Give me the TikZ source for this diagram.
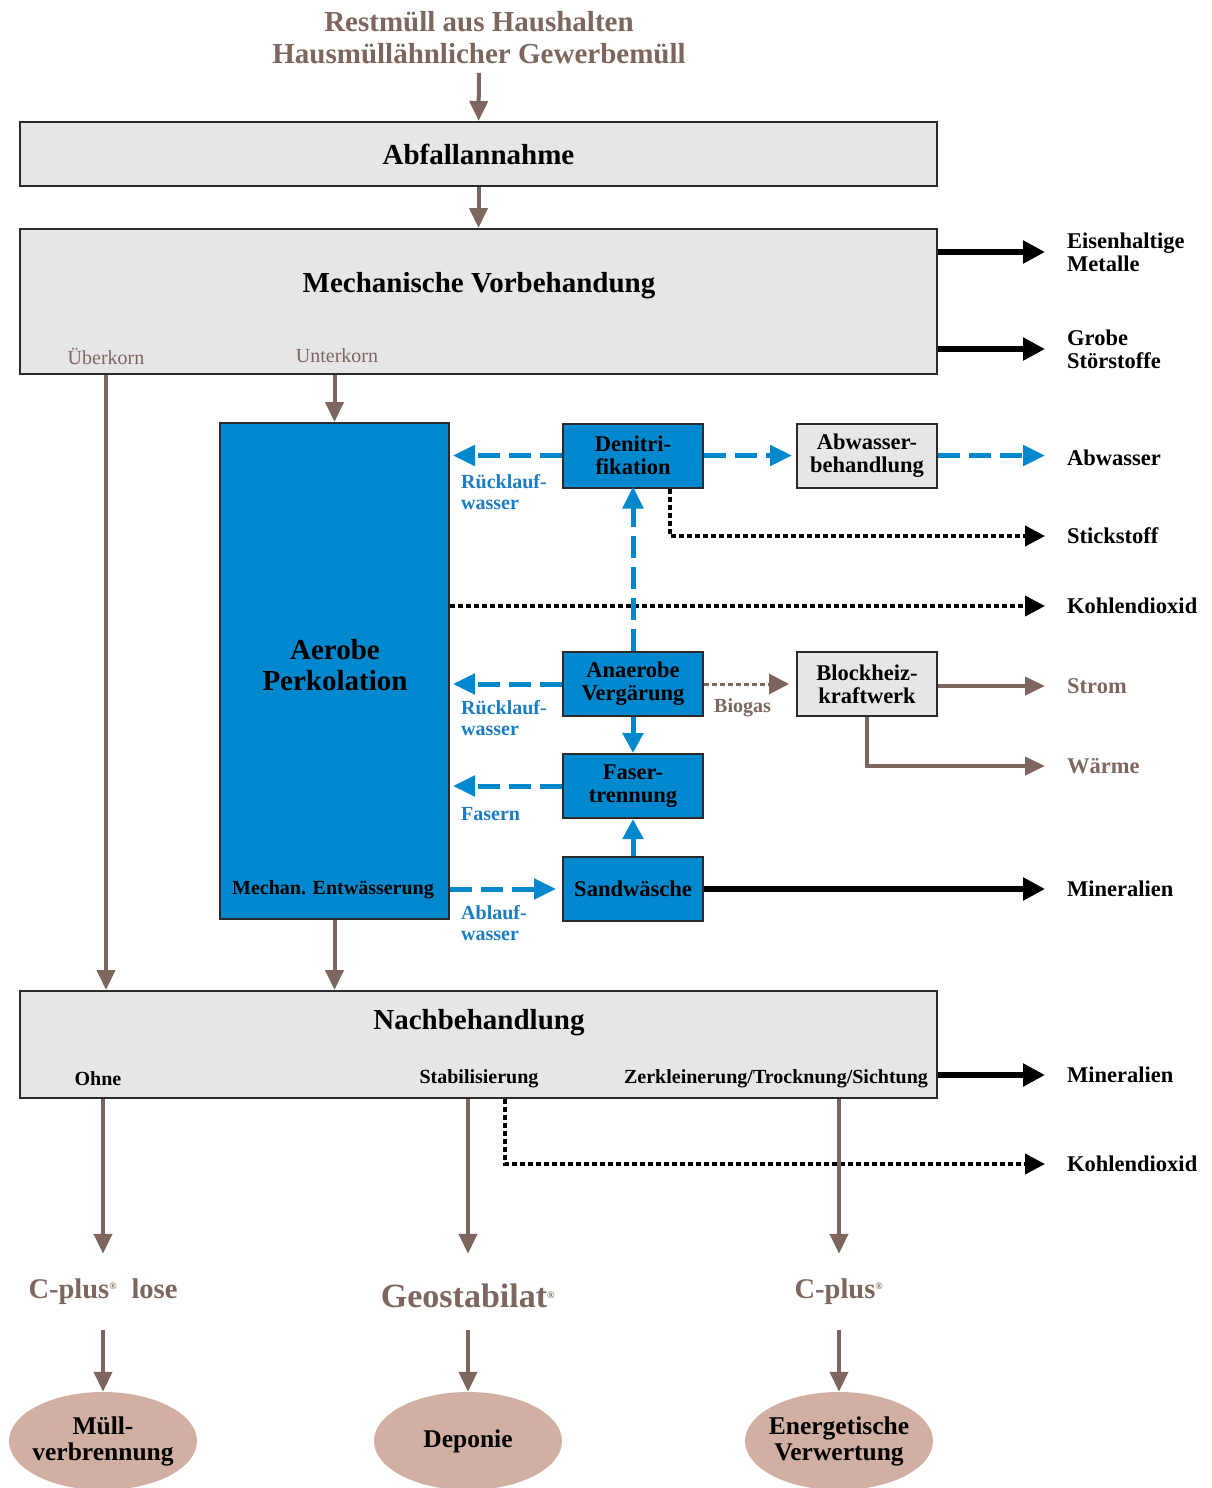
\documentclass[tikz,border=0pt]{standalone}
\usepackage{fontspec}
\setmainfont{Liberation Serif}
\usepackage{xcolor}
\usetikzlibrary{arrows.meta,positioning,shapes.geometric,calc}
\definecolor{mbBrown}{HTML}{7D665D}
\definecolor{mbBlue}{HTML}{0088CE}
\definecolor{mbBlueTxt}{HTML}{1A7DC4}
\definecolor{mbGray}{HTML}{E6E6E8}
\definecolor{mbEdge}{HTML}{2B2B2B}
\definecolor{mbRose}{HTML}{D1AFA2}
\newcommand{\regmark}{\textsuperscript{\fontsize{10}{10}\selectfont ®}}

\begin{document}
\begin{tikzpicture}[x=1pt,y=-1pt,
 bigbox/.style={rectangle,draw=mbEdge,line width=2pt,fill=mbGray,minimum width=917pt,inner sep=0pt},
 boxtitle/.style={inner sep=0pt,font=\fontsize{29}{31}\selectfont\bfseries},
 procbox/.style={rectangle,draw=mbEdge,line width=2pt,fill=mbBlue,minimum width=140pt,minimum height=64pt,
   align=center,inner sep=0pt,font=\fontsize{22.5}{23}\selectfont\bfseries},
 greybox/.style={procbox,fill=mbGray},
 outlbl/.style={anchor=west,inner xsep=22pt,inner ysep=0pt,align=left,font=\fontsize{22.5}{23}\selectfont\bfseries},
 bluelbl/.style={anchor=west,inner sep=0pt,align=left,text=mbBlueTxt,font=\fontsize{20}{21}\selectfont\bfseries},
 sublbl/.style={inner sep=0pt,font=\fontsize{20}{21}\selectfont\bfseries},
 product/.style={text=mbBrown,minimum height=76pt,inner sep=0pt,font=\fontsize{28.5}{31}\selectfont\bfseries},
 sink/.style={ellipse,fill=mbRose,minimum width=188pt,minimum height=98pt,inner xsep=-8pt,inner ysep=0pt,
   align=center,font=\fontsize{25.5}{26}\selectfont\bfseries},
 flow/.style={-{Triangle[length=20pt,width=18pt]},line width=4pt,draw=mbBrown},
 outflow/.style={-{Triangle[length=22pt,width=22pt]},line width=6pt,draw=black},
 water/.style={-{Triangle[length=22pt,width=20pt]},line width=5pt,draw=mbBlue,dash pattern=on 22pt off 9pt},
 sludge/.style={-{Triangle[length=20pt,width=20pt]},line width=5pt,draw=mbBlue},
 gas/.style={-{Triangle[length=20pt,width=20pt]},line width=4pt,draw=black,dash pattern=on 5pt off 3pt},
 biogasflow/.style={gas,draw=mbBrown,line width=3pt}]
\useasboundingbox (0,0) rectangle (1212,1488);
\node[text=mbBrown,align=center,font=\fontsize{29}{32}\selectfont\bfseries] (input) at (479,38)
  {Restmüll aus Haushalten\\Hausmüllähnlicher Gewerbemüll};
\node[bigbox,minimum height=64pt] (annahme) at (478.5,154) {};
\node[boxtitle] at (annahme) {Abfallannahme};
\node[bigbox,minimum height=145pt] (mechvor) at (478.5,301.5) {};
\node[boxtitle] (mechtitle) at (479,286) {Mechanische Vorbehandung};
\node[sublbl,text=mbBrown,font=\fontsize{20}{21}\selectfont] (ueber) at (106,356) {Überkorn};
\node[sublbl,text=mbBrown,font=\fontsize{20}{21}\selectfont] (unter) at (337,356) {Unterkorn};
\node[outlbl] (eisen) at (1045,252) {Eisenhaltige\\Metalle};
\node[outlbl] (grobe) at (1045,349) {Grobe\\Störstoffe};

\node[procbox,minimum width=229pt,minimum height=496pt] (aerob) at (334.5,671) {};
\node[boxtitle,align=center] (aerobtitle) at (335,665) {Aerobe\\Perkolation};
\node[sublbl] (entw) at (333,890) {Mechan. Entwässerung};
\node[procbox] (denitri) at (633,455.5) {Denitri-\\fikation};
\node[greybox] (abwbeh) at (867,455.5) {Abwasser-\\behandlung};
\node[procbox] (anaerob) at (633,684) {Anaerobe\\Vergärung};
\node[greybox] (bhkw) at (867,684) {Blockheiz-\\kraftwerk};
\node[procbox] (faser) at (633,786) {Faser-\\trennung};
\node[procbox] (sand) at (633,889) {Sandwäsche};
\node[bluelbl] (rueck1) at (461,492) {Rücklauf-\\wasser};
\node[bluelbl] (rueck2) at (461,718) {Rücklauf-\\wasser};
\node[bluelbl] (fasern) at (461,814) {Fasern};
\node[bluelbl] (ablauf) at (461,923) {Ablauf-\\wasser};
\node[sublbl,anchor=west,text=mbBrown] (biogas) at (714,708) {Biogas};
\node[outlbl] (abwasser) at (1045,458) {Abwasser};
\node[outlbl] (stick) at (1045,536) {Stickstoff};
\node[outlbl] (kohlen1) at (1045,606) {Kohlendioxid};
\node[outlbl,text=mbBrown] (strom) at (1045,686) {Strom};
\node[outlbl,text=mbBrown] (waerme) at (1045,766) {Wärme};
\node[outlbl] (mineral1) at (1045,889) {Mineralien};

\node[bigbox,minimum height=107pt] (nachbeh) at (478.5,1044.5) {};
\node[boxtitle] (nachtitle) at (479,1023) {Nachbehandlung};
\node[sublbl] (ohne) at (98,1079) {Ohne};
\node[sublbl] (stabil) at (479,1079) {Stabilisierung};
\node[sublbl] (zerkl) at (776,1079) {Zerkleinerung/Trocknung/Sichtung};
\node[outlbl] (mineral2) at (1045,1075) {Mineralien};
\node[outlbl] (kohlen2) at (1045,1164) {Kohlendioxid};

\node[product] (lose) at (103,1292) {C-plus\regmark\ \ lose};
\node[product,font=\fontsize{34}{36}\selectfont\bfseries] (geostab) at (468,1296) {Geostabilat\regmark};
\node[product] (cplus) at (839,1292) {C-plus\regmark};
\node[sink] (mva) at (103,1441) {Müll-\\verbrennung};
\node[sink] (deponie) at (468,1441) {Deponie};
\node[sink] (energie) at (839,1441) {Energetische\\Verwertung};

\draw[flow,shorten <=5pt] (input) -- (annahme);
\draw[flow] (annahme) -- (mechvor);
\draw[outflow] (mechvor.east |- eisen.west) -- (eisen.west);
\draw[outflow] (mechvor.east |- grobe.west) -- (grobe.west);
\draw[flow] (mechvor.south -| ueber) -- (nachbeh.north -| ueber);
\draw[flow] (mechvor.south -| aerob) -- (aerob.north);
\draw[flow] (aerob.south) -- (nachbeh.north -| aerob);

\draw[water] (denitri.west) -- ([xshift=3pt]denitri.west -| aerob.east);
\draw[water,shorten >=4pt] (denitri.east) -- (abwbeh.west);
\draw[water] (abwbeh.east) -- (abwbeh.east -| abwasser.west);
\draw[gas] ([xshift=37pt]denitri.south) |- (stick.west);
\draw[gas] (aerob.east |- kohlen1.west) -- (kohlen1.west);
\draw[water] (anaerob.north) -- ([yshift=2pt]denitri.south);
\draw[water] (anaerob.west) -- ([xshift=3pt]anaerob.west -| aerob.east);
\draw[biogasflow,shorten >=7pt] (anaerob.east) -- (bhkw.west);
\draw[flow] (bhkw.east |- strom.west) -- (strom.west);
\draw[flow] (bhkw.south) |- (waerme.west);
\draw[sludge] (anaerob.south) -- (faser.north);
\draw[water] (faser.west) -- ([xshift=3pt]faser.west -| aerob.east);
\draw[sludge] (sand.north) -- (faser.south);
\draw[water,shorten >=6pt] (aerob.east |- sand.west) -- (sand.west);
\draw[outflow] (sand.east) -- (mineral1.west);

\draw[outflow] (nachbeh.east |- mineral2.west) -- (mineral2.west);
\draw[gas] ([xshift=26.5pt]nachbeh.south) |- (kohlen2.west);
\draw[flow] (nachbeh.south -| lose) -- (lose.north);
\draw[flow] (nachbeh.south -| geostab) -- (lose.north -| geostab);
\draw[flow] (nachbeh.south -| cplus) -- (cplus.north);
\draw[flow] (lose.south) -- (mva.north);
\draw[flow] (lose.south -| geostab) -- (deponie.north);
\draw[flow] (cplus.south) -- (energie.north);
\end{tikzpicture}
\end{document}
